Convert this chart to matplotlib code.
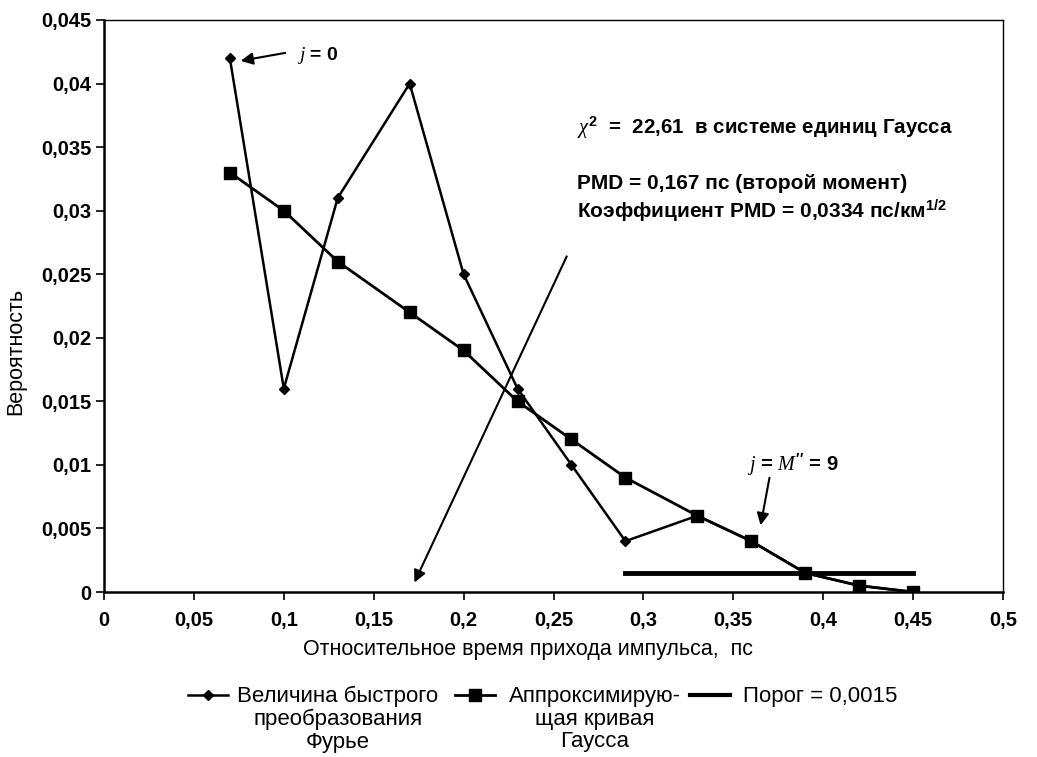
import matplotlib
matplotlib.use('Agg')
import matplotlib.pyplot as plt
from matplotlib.lines import Line2D

plt.rcParams['font.family'] = ['Liberation Sans', 'DejaVu Sans']
plt.rcParams['mathtext.fontset'] = 'custom'
plt.rcParams['mathtext.rm'] = 'Liberation Sans:bold'
plt.rcParams['mathtext.it'] = 'Liberation Serif:italic'
plt.rcParams['mathtext.bf'] = 'Liberation Sans:bold'

# data
time_ps = [0.07, 0.10, 0.13, 0.17, 0.20, 0.23, 0.26, 0.29, 0.33, 0.36, 0.39, 0.42, 0.45]
fft_values = [0.042, 0.016, 0.031, 0.040, 0.025, 0.016, 0.010, 0.004, 0.006, 0.004, 0.0015, 0.0005, 0.0]
gauss_values = [0.033, 0.030, 0.026, 0.022, 0.019, 0.015, 0.012, 0.009, 0.006, 0.004, 0.0015, 0.0005, 0.0]
threshold_x = [0.29, 0.45]
threshold_value = 0.0015

x_ticks = [0, 0.05, 0.1, 0.15, 0.2, 0.25, 0.3, 0.35, 0.4, 0.45, 0.5]
x_tick_labels = ['0', '0,05', '0,1', '0,15', '0,2', '0,25', '0,3', '0,35', '0,4', '0,45', '0,5']
y_ticks = [0, 0.005, 0.01, 0.015, 0.02, 0.025, 0.03, 0.035, 0.04, 0.045]
y_tick_labels = ['0', '0,005', '0,01', '0,015', '0,02', '0,025', '0,03', '0,035', '0,04', '0,045']

legend_labels = ['Величина быстрого\nпреобразования\nФурье',
                 'Аппроксимирую-\nщая кривая\nГаусса',
                 'Порог = 0,0015']

W, H = 1037, 757
fig = plt.figure(figsize=(W / 100, H / 100), dpi=100)
ax = fig.add_axes([104 / W, 1 - 592 / H, 899 / W, 572 / H])

ax.plot(time_ps, fft_values, color='black', lw=1.8, marker='D', ms=5.5, zorder=3)
ax.plot(time_ps, gauss_values, color='black', lw=2.0, marker='s', ms=8, zorder=3)
ax.plot(threshold_x, [threshold_value] * 2, color='black', lw=3.5, zorder=2)

ax.set_xlim(0, 0.5)
ax.set_ylim(0, 0.045)
ax.set_xticks(x_ticks)
ax.set_xticklabels(x_tick_labels, fontweight='bold', fontsize=14.5)
ax.set_yticks(y_ticks)
ax.set_yticklabels(y_tick_labels, fontweight='bold', fontsize=14.5)
ax.tick_params(axis='x', direction='out', length=6, width=1.2, pad=8)
ax.tick_params(axis='y', direction='out', length=6, width=1.2, pad=3)
for side in ['left', 'bottom']:
    ax.spines[side].set_linewidth(1.8)
for side in ['top', 'right']:
    ax.spines[side].set_linewidth(1.0)

ax.set_xlabel('Относительное время прихода импульса,  пс', fontsize=15.5)
ax.xaxis.set_label_coords((528 - 104) / 899, -0.082)
ax.set_ylabel('Вероятность', fontsize=15.5)
ax.yaxis.set_label_coords(-0.087, 0.421)

# annotations
arrow_kw = dict(arrowstyle='-|>', color='black', lw=1.5, mutation_scale=18)
ax.annotate('', xy=(0.0745, 0.04175), xytext=(0.1023, 0.04245), arrowprops=arrow_kw)
ax.text(0.1073, 0.0422, r'$j$ = 0', fontsize=14, fontweight='bold', va='center')

ax.annotate('', xy=(0.172, 0.00055), xytext=(0.258, 0.0266), arrowprops=arrow_kw)

ax.annotate('', xy=(0.3649, 0.00503), xytext=(0.3704, 0.0092), arrowprops=arrow_kw)
ax.text(0.3576, 0.00998, r"$j$ = $M''$ = 9", fontsize=14.5, fontweight='bold', va='center')

ax.text(0.263, 0.0365, r'$\chi^2$  =  22,61  в системе единиц Гаусса',
        fontsize=14.8, fontweight='bold', va='center')
ax.text(0.263, 0.0321, 'PMD = 0,167 пс (второй момент)',
        fontsize=15, fontweight='bold', va='center')
ax.text(0.263, 0.0300, r'Коэффициент PMD = 0,0334 пс/км$^{1/2}$',
        fontsize=15, fontweight='bold', va='center')

# legend drawn by hand so the handle sits on the first text line
ly = 1 - 695 / H
ltop = 1 - 686 / H
handles = [
    ((188, 228), 'D', 5.5, 1.8),
    ((455, 495), 's', 8, 2.0),
    ((690, 730), None, 0, 3.0),
]
for (x0, x1), mk, ms, lw in handles:
    fig.add_artist(Line2D([x0 / W, x1 / W], [ly, ly], color='black', lw=lw,
                          transform=fig.transFigure))
    if mk:
        fig.add_artist(Line2D([(x0 + x1) / 2 / W], [ly], color='black', marker=mk,
                              ms=ms, transform=fig.transFigure))

fig.text(338 / W, ltop, legend_labels[0], fontsize=16, ha='center', va='top',
         multialignment='center', linespacing=1.1)
fig.text(595 / W, ltop, legend_labels[1], fontsize=16, ha='center', va='top',
         multialignment='center', linespacing=1.1)
fig.text(743 / W, ltop, legend_labels[2], fontsize=16, ha='left', va='top')

fig.savefig('out.png', dpi=100)
